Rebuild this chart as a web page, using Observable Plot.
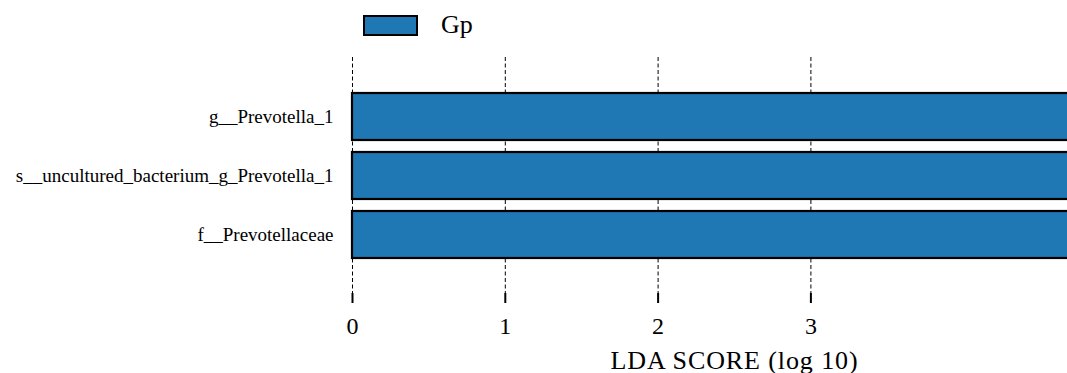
<!DOCTYPE html>
<html>
<head>
<meta charset="utf-8">
<script src="https://cdn.jsdelivr.net/npm/d3@7"></script>
<script src="https://cdn.jsdelivr.net/npm/@observablehq/plot@0.6"></script>
<style>
  html, body { margin: 0; padding: 0; background: #fff; overflow: hidden; }
  #chart { position: relative; width: 1116px; font-family: "Liberation Serif", "Times New Roman", serif; }
  .legend { position: relative; height: 57px; }
  .legend .swatch { position: absolute; left: 363px; top: 15px; width: 51px; height: 17px; background: #1f77b4; border: 2px solid #000; }
  .legend .name { position: absolute; left: 441px; top: 10px; font-size: 26px; line-height: 30px; color: #000; }
  svg { display: block; }
  svg text { font-family: "Liberation Serif", "Times New Roman", serif; }
</style>
</head>
<body>
<div id="chart"></div>
<script>
// LEfSe features enriched in group Gp, top to bottom
const features = ["g__Prevotella_1", "s__uncultured_bacterium_g_Prevotella_1", "f__Prevotellaceae"];
const ldaScores = [4.96, 4.95, 4.94];
const group = "Gp";
const groupColor = "#1f77b4";
const xTicks = [0, 1, 2, 3];
const xTitle = "LDA SCORE (log 10)";

const serif = "'Liberation Serif', 'Times New Roman', serif";
const rows = features.map((f, i) => ({feature: f, score: ldaScores[i], group}));

const chart = document.getElementById("chart");

const legend = document.createElement("div");
legend.className = "legend";
legend.innerHTML = `<div class="swatch"></div><div class="name">${group}</div>`;
chart.appendChild(legend);

const plot = Plot.plot({
  width: 1116,
  height: 316,
  marginLeft: 352,
  marginRight: 0,
  marginTop: 0,
  marginBottom: 80,
  style: {fontFamily: serif, background: "#fff", color: "#000", overflow: "visible"},
  x: {domain: [0, 5]},
  y: {domain: features, paddingInner: 0.21, paddingOuter: 0.59},
  marks: [
    Plot.ruleX(xTicks, {stroke: "#000", strokeWidth: 1, strokeDasharray: "4,2.5"}),
    Plot.barX(rows, {x1: 0, x2: "score", y: "feature", fill: groupColor, stroke: "#000", strokeWidth: 2.2}),
    Plot.axisY({tickSize: 0, tickPadding: 19, fontSize: 19, fontFamily: serif, label: null}),
    Plot.axisX({ticks: xTicks, tickFormat: "d", tickSize: 10, tickPadding: 13, fontSize: 24, fontFamily: serif, strokeWidth: 2, label: null}),
    Plot.axisX({ticks: [], tickSize: 0, fontSize: 26, fontFamily: serif,
      label: xTitle, labelAnchor: "center", labelArrow: "none", labelOffset: 75})
  ]
});

// slightly wider tracking on the axis title
d3.select(plot).selectAll("text")
  .filter(function () { return this.textContent === xTitle; })
  .style("letter-spacing", "0.9px");

chart.appendChild(plot);
</script>
</body>
</html>
